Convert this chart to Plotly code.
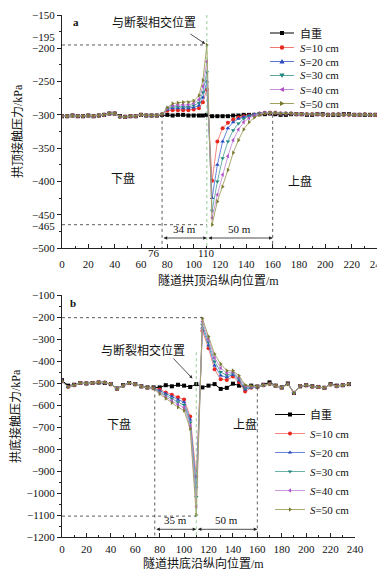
import plotly.graph_objects as go

# ---------------- panel a : crown contact pressure ----------------
x_a = [0, 4, 8, 12, 16, 20, 24, 28, 32, 36, 40, 44, 48, 52, 56, 60, 64, 68, 72, 76,
       80, 84, 88, 92, 96, 100, 104, 107, 110,
       114, 118, 122, 126, 130, 134, 138, 142, 146, 150, 154, 158, 162, 166, 170, 174,
       178, 182, 186, 190, 194, 198, 202, 206, 210, 214, 218, 222, 226, 230, 234, 238]

g_a = [-302, -302, -301, -302, -302, -301, -302, -301, -300, -298, -298, -302, -303, -302, -302, -300, -301, -301, -301, -300,
       -300, -301, -300, -300, -301, -301, -301, -301, -300,
       -302, -302, -302, -302, -301, -301, -300, -300, -300, -299, -299, -298, -299, -300, -300, -299,
       -299, -299, -300, -300, -299, -299, -300, -300, -300, -299, -299, -300, -300, -300, -300, -300]

s10_a = [-302, -302, -301, -302, -302, -301, -302, -301, -300, -298, -298, -303, -303, -302, -302, -300, -301, -301, -301, -299,
         -294, -293, -293, -293, -293, -292, -290, -281, -262,
         -399, -340, -320, -312, -307, -304, -302, -301, -300, -298, -297, -297, -297, -298, -298, -298,
         -299, -299, -299, -299, -299, -300, -300, -299, -299, -300, -300, -300, -300, -299, -300, -300]
s20_a = [-302, -302, -301, -302, -302, -301, -302, -301, -300, -298, -298, -303, -303, -302, -302, -300, -301, -301, -301, -299,
         -292, -290, -290, -290, -290, -289, -286, -274, -250,
         -425, -375, -340, -320, -311, -306, -303, -301, -299, -298, -297, -297, -297, -298, -298, -298,
         -299, -299, -299, -299, -299, -300, -300, -299, -299, -300, -300, -300, -300, -299, -300, -300]
s30_a = [-302, -302, -301, -302, -302, -301, -302, -301, -300, -298, -298, -303, -303, -302, -302, -300, -301, -301, -301, -299,
         -291, -288, -288, -288, -288, -286, -282, -266, -236,
         -444, -400, -365, -340, -323, -313, -306, -302, -300, -298, -297, -297, -297, -298, -298, -298,
         -299, -299, -299, -299, -299, -300, -300, -299, -299, -300, -300, -300, -300, -299, -300, -300]
s40_a = [-302, -302, -301, -302, -302, -301, -302, -301, -300, -298, -298, -303, -303, -302, -302, -300, -301, -301, -301, -299,
         -290, -286, -285, -285, -285, -283, -277, -257, -220,
         -455, -420, -390, -362, -338, -322, -311, -305, -301, -299, -297, -297, -297, -298, -298, -298,
         -299, -299, -299, -299, -299, -300, -300, -299, -299, -300, -300, -300, -300, -299, -300, -300]
s50_a = [-302, -302, -301, -302, -302, -301, -302, -301, -300, -298, -298, -303, -303, -302, -302, -300, -301, -301, -301, -299,
         -289, -283, -282, -281, -281, -279, -271, -248, -195,
         -465, -430, -408, -383, -357, -338, -322, -311, -304, -300, -298, -297, -297, -298, -298, -298,
         -299, -299, -299, -299, -299, -300, -300, -299, -299, -300, -300, -300, -300, -299, -300, -300]

# ---------------- panel b : invert contact pressure ----------------
x_b = [0, 5, 10, 15, 20, 25, 30, 35, 40, 45, 50, 55, 60, 65, 70, 75,
       80, 85, 90, 95, 100, 105, 110,
       115, 120, 125, 130, 135, 140, 145, 150, 155,
       160, 165, 170, 175, 180, 185, 190, 195, 200, 205, 210, 215, 220, 225, 230, 235]

g_b = [-488, -512, -508, -500, -502, -500, -498, -500, -505, -525, -510, -500, -505, -515, -520, -520,
       -520, -510, -515, -508, -512, -518, -505,
       -520, -512, -505, -527, -522, -503, -512, -517, -512,
       -516, -508, -497, -512, -520, -502, -545, -515, -510, -515, -518, -522, -505, -512, -510, -505]

s10_b = [-492, -518, -510, -500, -502, -500, -496, -498, -505, -527, -512, -500, -506, -516, -522, -524,
         -530, -543, -553, -565, -575, -652, -926,
         -262, -342, -438, -483, -486, -471, -497, -539, -522,
         -517, -510, -505, -513, -522, -505, -545, -515, -510, -517, -518, -522, -507, -515, -510, -505]
s20_b = [-492, -518, -510, -500, -502, -500, -496, -498, -505, -527, -512, -500, -506, -516, -522, -524,
         -535, -549, -561, -576, -588, -666, -971,
         -248, -328, -420, -466, -474, -462, -489, -530, -520,
         -517, -510, -505, -513, -522, -505, -545, -515, -510, -517, -518, -522, -507, -515, -510, -505]
s30_b = [-492, -518, -510, -500, -502, -500, -496, -498, -505, -527, -512, -500, -506, -516, -522, -524,
         -540, -556, -570, -587, -600, -680, -1018,
         -235, -315, -402, -450, -465, -456, -482, -524, -518,
         -517, -510, -505, -513, -522, -505, -545, -515, -510, -517, -518, -522, -507, -515, -510, -505]
s40_b = [-492, -518, -510, -500, -502, -500, -496, -498, -505, -527, -512, -500, -506, -516, -522, -524,
         -545, -563, -580, -598, -612, -694, -1062,
         -222, -302, -385, -432, -455, -450, -475, -516, -516,
         -517, -510, -505, -513, -522, -505, -545, -515, -510, -517, -518, -522, -507, -515, -510, -505]
s50_b = [-492, -518, -510, -500, -502, -500, -496, -498, -505, -527, -512, -500, -506, -516, -522, -524,
         -550, -570, -590, -610, -625, -708, -1100,
         -207, -289, -368, -414, -444, -444, -467, -509, -514,
         -517, -510, -505, -513, -522, -505, -545, -515, -510, -517, -518, -522, -507, -515, -510, -505]

series_names = ["自重", "<i>S</i>=10 cm", "<i>S</i>=20 cm", "<i>S</i>=30 cm", "<i>S</i>=40 cm", "<i>S</i>=50 cm"]
x_ticks = [0, 20, 40, 60, 80, 100, 120, 140, 160, 180, 200, 220, 240]

# styles
marker_cols = ["#000000", "#e8281e", "#2848c0", "#208880", "#b050c8", "#7a7a30"]
line_cols = ["#000000", "#f07a72", "#5a78d6", "#5aa8a0", "#c890d8", "#a0a060"]
symbols = ["square", "circle", "triangle-up", "triangle-down", "triangle-left", "triangle-right"]

FONT = "Liberation Serif, 'Times New Roman', 'Noto Sans CJK SC', serif"

fig = go.Figure()

data_a = [g_a, s10_a, s20_a, s30_a, s40_a, s50_a]
data_b = [g_b, s10_b, s20_b, s30_b, s40_b, s50_b]

for i, ys in enumerate(data_a):
    fig.add_trace(go.Scatter(
        x=x_a, y=ys, mode="lines+markers", name=series_names[i], showlegend=False,
        line=dict(color=line_cols[i], width=1 if i == 0 else 0.9),
        marker=dict(symbol=symbols[i], size=4, color=marker_cols[i]),
        xaxis="x", yaxis="y"))

for i, ys in enumerate(data_b):
    fig.add_trace(go.Scatter(
        x=x_b, y=ys, mode="lines+markers", name=series_names[i],
        line=dict(color=line_cols[i], width=1 if i == 0 else 0.9),
        marker=dict(symbol=symbols[i], size=4, color=marker_cols[i]),
        xaxis="x2", yaxis="y2", legend="legend2"))

# the page body has an 8px default margin, so the figure is shrunk by it
OFF = 8
W, H = 385 - OFF, 577 - OFF
def px_x(p):
    return (p - OFF) / W
def px_y(p):
    return 1 - (p - OFF) / H

axis_common = dict(showline=True, linecolor="#222", linewidth=1, showgrid=False, zeroline=False,
                   tickfont=dict(family=FONT, size=11, color="#111"), automargin=False,
                   tickcolor="#222")

fig.update_layout(
    width=W, height=H, template="none",
    paper_bgcolor="white", plot_bgcolor="white",
    margin=dict(l=0, r=0, t=0, b=0),
    font=dict(family=FONT, size=11, color="#111"),
    xaxis=dict(domain=[px_x(62), px_x(378)], range=[0, 240], tickvals=x_ticks,
               ticks="inside", ticklen=4, anchor="y", ticklabeloverflow="allow",
               minor=dict(ticks="inside", ticklen=2, dtick=10, tickcolor="#222"),
               ticklabelstandoff=6, **axis_common),
    yaxis=dict(domain=[px_y(248), px_y(15)], range=[-500, -150], dtick=50,
               ticks="outside", ticklen=4, anchor="x",
               minor=dict(ticks="outside", ticklen=2, dtick=25, tickcolor="#222"),
               **axis_common),
    xaxis2=dict(domain=[px_x(62), px_x(355)], range=[0, 240], tickvals=x_ticks,
                ticks="inside", ticklen=4, anchor="y2",
                minor=dict(ticks="inside", ticklen=2, dtick=10, tickcolor="#222"),
                ticklabelstandoff=2, **axis_common),
    yaxis2=dict(domain=[px_y(537), px_y(295)], range=[-1200, -100], dtick=100,
                ticks="outside", ticklen=4, anchor="x2",
                minor=dict(ticks="outside", ticklen=2, dtick=50, tickcolor="#222"),
                **axis_common),
    legend2=dict(x=px_x(270), y=px_y(400), xanchor="left", yanchor="top",
                 bgcolor="rgba(0,0,0,0)", font=dict(family=FONT, size=11), tracegroupgap=0),
)

dot = dict(color="#333", width=0.8, dash="dot")
green = dict(color="#88c888", width=0.9, dash="dot")
shapes = [
    # panel a
    dict(type="line", xref="x", yref="y", x0=0, x1=110, y0=-195, y1=-195, line=dot),
    dict(type="line", xref="x", yref="y", x0=0, x1=110, y0=-465, y1=-465, line=dot),
    dict(type="line", xref="x", yref="y", x0=76, x1=76, y0=-300, y1=-500, line=dot),
    dict(type="line", xref="x", yref="y", x0=160, x1=160, y0=-300, y1=-500, line=dot),
    dict(type="line", xref="x", yref="y", x0=110, x1=110, y0=-150, y1=-500, line=green),
    # panel b
    dict(type="line", xref="x2", yref="y2", x0=0, x1=115, y0=-203, y1=-203, line=dot),
    dict(type="line", xref="x2", yref="y2", x0=0, x1=110, y0=-1105, y1=-1105, line=dot),
    dict(type="line", xref="x2", yref="y2", x0=76, x1=76, y0=-525, y1=-1200, line=dot),
    dict(type="line", xref="x2", yref="y2", x0=160, x1=160, y0=-520, y1=-1200, line=dot),
    dict(type="line", xref="x2", yref="y2", x0=110, x1=110, y0=-360, y1=-1200, line=green),
]

cjk = dict(family=FONT, size=12, color="#111")
tf = dict(family=FONT, size=11, color="#111")
C = dict(xanchor="center", yanchor="middle", showarrow=False)
ann = []

# compact key for panel a (same series styles as the traces)
glyph_paths = {
    "triangle-up": "M-2.6,-2 L2.6,-2 L0,2.6 Z",
    "triangle-down": "M-2.6,2 L2.6,2 L0,-2.6 Z",
    "triangle-left": "M2,-2.6 L2,2.6 L-2.6,0 Z",
    "triangle-right": "M-2,-2.6 L-2,2.6 L2.6,0 Z",
}
key_rows = [33, 47.5, 61.5, 75.5, 89.5, 103.5]
for i, yc in enumerate(key_rows):
    shapes.append(dict(type="line", xref="paper", yref="paper", x0=px_x(270), x1=px_x(294),
                       y0=px_y(yc), y1=px_y(yc), line=dict(color=line_cols[i], width=1)))
    base = dict(xref="paper", yref="paper", xsizemode="pixel", ysizemode="pixel",
                xanchor=px_x(282), yanchor=px_y(yc), fillcolor=marker_cols[i],
                line=dict(width=0))
    sym = symbols[i]
    if sym == "square":
        shapes.append(dict(type="rect", x0=-2, x1=2, y0=-2, y1=2, **base))
    elif sym == "circle":
        shapes.append(dict(type="circle", x0=-2.2, x1=2.2, y0=-2.2, y1=2.2, **base))
    else:
        shapes.append(dict(type="path", path=glyph_paths[sym], **base))
    ann.append(dict(xref="paper", yref="paper", x=px_x(298), y=px_y(yc), xanchor="left",
                    yanchor="middle", text=series_names[i], showarrow=False, font=tf))

fig.update_layout(shapes=shapes)

# axis titles
ann.append(dict(xref="paper", yref="paper", x=px_x(17), y=px_y(131), text="拱顶接触压力/kPa",
                textangle=-90, font=cjk, **C))
ann.append(dict(xref="paper", yref="paper", x=px_x(218), y=px_y(280), text="隧道拱顶沿纵向位置/m",
                font=cjk, **C))
ann.append(dict(xref="paper", yref="paper", x=px_x(15), y=px_y(416), text="拱底接触压力/kPa",
                textangle=-90, font=cjk, **C))
ann.append(dict(xref="paper", yref="paper", x=px_x(203), y=px_y(563), text="隧道拱底沿纵向位置/m",
                font=cjk, **C))
# panel letters
ann.append(dict(xref="x", yref="y", x=11, y=-161, text="<b>a</b>", font=tf, **C))
ann.append(dict(xref="x2", yref="y2", x=9, y=-135, text="<b>b</b>", font=tf, **C))
# region labels
ann += [
    dict(xref="x", yref="y", x=46, y=-395, text="下盘", font=cjk, **C),
    dict(xref="x", yref="y", x=181, y=-400, text="上盘", font=cjk, **C),
    dict(xref="x2", yref="y2", x=47, y=-690, text="下盘", font=cjk, **C),
    dict(xref="x2", yref="y2", x=150, y=-690, text="上盘", font=cjk, **C),
]
# fault intersection callouts
ann += [
    dict(xref="x", yref="y", x=70, y=-161, text="与断裂相交位置", font=cjk, **C),
    dict(xref="x", yref="y", x=110, y=-195, text="", showarrow=True, ax=-18, ay=-12,
         arrowhead=2, arrowsize=0.8, arrowwidth=0.8, arrowcolor="#222", standoff=2),
    dict(xref="x2", yref="y2", x=66, y=-350, text="与断裂相交位置", font=cjk, **C),
    dict(xref="x2", yref="y2", x=108, y=-486, text="", showarrow=True, ax=-22, ay=-23,
         arrowhead=2, arrowsize=0.8, arrowwidth=0.8, arrowcolor="#222", standoff=2),
]
# extra tick labels
ann += [
    dict(xref="paper", yref="y", x=px_x(57), y=-195, yshift=8, xanchor="right", yanchor="middle",
         text="−195", showarrow=False, font=tf),
    dict(xref="paper", yref="y", x=px_x(57), y=-465, yshift=-1, xanchor="right", yanchor="middle",
         text="−465", showarrow=False, font=tf),
    dict(xref="x", yref="paper", x=76, y=px_y(253), xanchor="right", yanchor="middle", text="76",
         showarrow=False, font=tf),
    dict(xref="x", yref="paper", x=110, y=px_y(253), xanchor="center", yanchor="middle", text="110",
         showarrow=False, font=tf),
]
# dimension arrows
for xr, yr, y0, a0, a1, lab1, lab2 in [("x", "y", -485, 76, 110, "34 m", "50 m"),
                                       ("x2", "y2", -1165, 76, 110, "35 m", "50 m")]:
    ann.append(dict(xref=xr, yref=yr, axref=xr, ayref=yr, x=a1, y=y0, ax=a0, ay=y0, text="",
                    showarrow=True, arrowside="end+start", arrowhead=2, arrowsize=0.9,
                    arrowwidth=0.8, arrowcolor="#222"))
    ann.append(dict(xref=xr, yref=yr, axref=xr, ayref=yr, x=160, y=y0, ax=110, ay=y0, text="",
                    showarrow=True, arrowside="end+start", arrowhead=2, arrowsize=0.9,
                    arrowwidth=0.8, arrowcolor="#222"))
    ann.append(dict(xref=xr, yref=yr, x=(a0 + a1) / 2, y=y0, xanchor="center", yanchor="bottom",
                    yshift=1, text=lab1, showarrow=False, font=tf))
    ann.append(dict(xref=xr, yref=yr, x=135, y=y0, xanchor="center", yanchor="bottom",
                    yshift=1, text=lab2, showarrow=False, font=tf))

fig.update_layout(annotations=ann)

fig.write_html("out.html")
